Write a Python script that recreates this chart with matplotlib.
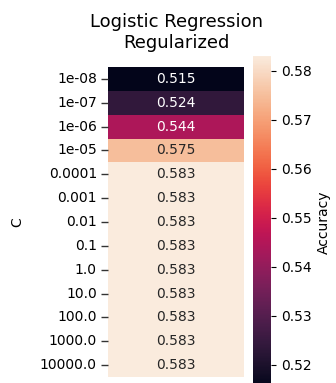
import numpy as np
import pandas as pd
import matplotlib
matplotlib.use("Agg")
import matplotlib.pyplot as plt
import seaborn as sns

# C values and mean accuracy for each
c_labels = ["1e-08", "1e-07", "1e-06", "1e-05", "0.0001", "0.001", "0.01",
            "0.1", "1.0", "10.0", "100.0", "1000.0", "10000.0"]
accuracy = [0.515, 0.524, 0.544, 0.575, 0.583, 0.583, 0.583,
            0.583, 0.583, 0.583, 0.583, 0.583, 0.583]

df = pd.DataFrame({"Accuracy": accuracy}, index=c_labels)

W, H = 336, 383
fig = plt.figure(figsize=(W / 100, H / 100), dpi=100)
# axes placed in pixel coords (left, top, right, bottom)
def px_axes(l, t, r, b):
    return fig.add_axes([l / W, 1 - b / H, (r - l) / W, (b - t) / H])

ax = px_axes(108, 67, 244, 377)
cax = px_axes(253, 56, 271, 389.5)

sns.heatmap(df, ax=ax, cbar_ax=cax, cmap="rocket", annot=True, fmt=".3f",
            xticklabels=False, yticklabels=True,
            cbar_kws={"label": "Accuracy"})
ax.set_ylabel("C", labelpad=11)
ax.set_yticklabels(c_labels, rotation=0)
ax.tick_params(axis="y", which="major", left=True, length=5, width=1,
               color="#333333", direction="out", pad=3)
for t in ax.yaxis.get_major_ticks():
    t.tick1line.set_visible(True)
    t.tick1line.set_clip_on(False)
ax.set_title("Logistic Regression\nRegularized", fontsize=13, pad=14)

fig.savefig("out.png", dpi=100)
